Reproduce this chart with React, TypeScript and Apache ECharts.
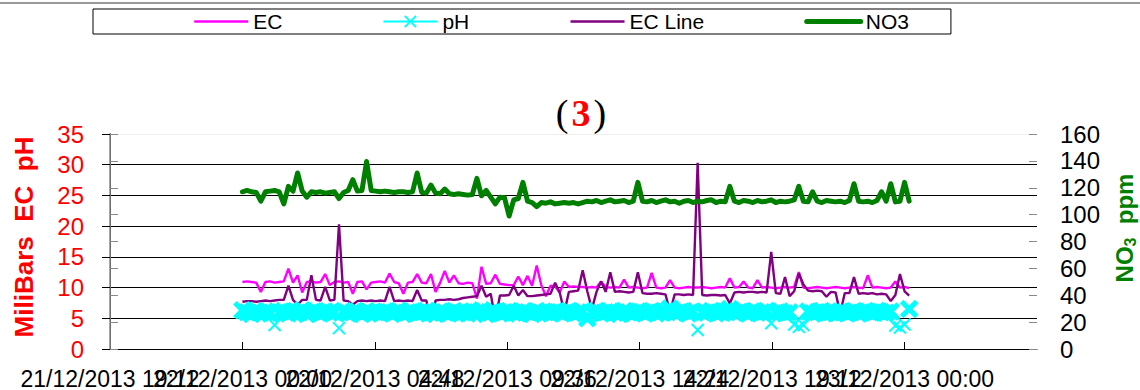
import React, { useEffect, useRef } from "react";
import * as echarts from "echarts";

// ---- Data ----
const xTickLabels = [
  "21/12/2013 19:12",
  "22/12/2013 00:00",
  "22/12/2013 04:48",
  "22/12/2013 09:36",
  "22/12/2013 14:24",
  "22/12/2013 19:12",
  "23/12/2013 00:00",
];
const xTickHours = 4.8; // hours between labelled ticks
const xMaxHours = 33.6;
const firstSampleHour = 4.8; // 22/12/2013 00:00
const sampleStepHours = 1 / 6; // one reading every 10 minutes

const leftTicks = [0, 5, 10, 15, 20, 25, 30, 35];
const rightTicks = [0, 20, 40, 60, 80, 100, 120, 140, 160];

const ecValues = [
  10.9, 11.0, 10.9, 10.8, 9.3, 10.9, 11.0, 10.8, 10.9, 11.0,
  13.1, 10.8, 12.0, 9.2, 10.9, 11.0, 10.8, 10.9, 12.2, 10.4,
  10.9, 11.0, 10.8, 10.9, 9.0, 10.9, 11.0, 9.7, 10.8, 10.9,
  11.0, 10.8, 12.3, 10.9, 10.7, 9.0, 10.8, 10.9, 12.2, 10.8,
  10.7, 12.2, 9.3, 10.8, 12.7, 10.8, 12.0, 10.7, 10.6, 10.8,
  10.7, 8.2, 13.4, 10.6, 10.7, 12.1, 10.6, 10.5, 10.4, 10.4,
  11.8, 10.4, 11.9, 10.3, 13.6, 10.4, 8.6, 10.3, 10.2, 9.2,
  11.0, 10.1, 10.2, 10.1, 10.1, 10.0, 10.1, 10.0, 11.0, 10.1,
  10.0, 10.1, 10.0, 11.3, 10.0, 10.1, 10.0, 9.9, 10.0, 12.4,
  10.0, 9.9, 10.0, 11.2, 10.0, 9.9, 10.0, 10.1, 10.0, 10.0,
  10.1, 10.0, 9.9, 10.0, 10.1, 10.0, 11.5, 10.0, 10.1, 11.0,
  10.0, 9.9, 11.2, 10.0, 10.1, 10.0, 9.9, 10.0, 10.1, 10.0,
  10.1, 12.5, 10.0, 9.9, 10.0, 10.1, 10.0, 9.9, 10.0, 10.1,
  10.0, 9.9, 10.0, 10.1, 10.0, 9.9, 12.0, 10.0, 10.1, 10.0,
  9.9, 10.0, 11.0, 10.0, 10.1, 9.9,
];

const phValues = [
  6.3, 6.0, 5.7, 6.2, 5.9, 6.1, 5.8, 3.9, 6.0, 6.2,
  5.8, 6.1, 5.9, 6.3, 5.7, 6.0, 6.2, 5.8, 6.1, 5.9,
  6.0, 3.4, 6.2, 5.8, 6.0, 6.1, 5.7, 6.2, 5.9, 6.0,
  5.8, 6.1, 6.0, 5.9, 6.2, 5.7, 6.0, 6.1, 5.8, 6.0,
  6.2, 5.9, 5.7, 6.1, 6.0, 5.8, 6.2, 5.9, 6.0, 5.8,
  6.1, 6.0, 6.3, 5.7, 5.9, 6.1, 5.8, 6.0, 6.2, 5.9,
  5.8, 6.1, 6.0, 5.7, 6.2, 5.9, 6.0, 5.8, 6.1, 6.0,
  5.9, 6.2, 5.8, 6.0, 6.1, 5.0, 5.9, 6.2, 5.8, 6.0,
  6.1, 5.9, 5.7, 6.2, 6.0, 5.8, 6.1, 6.0, 5.9, 6.2,
  5.8, 6.0, 6.1, 6.6, 5.9, 6.0, 6.2, 5.8, 6.1, 3.1,
  6.0, 5.9, 6.2, 5.8, 6.0, 6.1, 6.5, 5.9, 6.0, 6.2,
  5.8, 6.1, 5.9, 6.0, 6.2, 4.2, 5.9, 6.1, 5.8, 6.0,
  4.0, 3.6, 3.9, 6.1, 5.8, 6.0, 6.2, 5.9, 6.0, 5.8,
  6.1, 6.0, 5.9, 6.2, 5.8, 6.0, 6.1, 5.9, 6.2, 6.0,
  5.9, 6.1, 3.8, 3.5, 4.0, 6.5,
];

const ecLineValues = [
  7.7, 7.8, 7.8, 7.7, 7.8, 7.9, 7.8, 7.9, 8.0, 8.0,
  10.3, 8.0, 7.2, 8.0, 8.0, 12.0, 8.0, 7.9, 10.1, 7.9,
  8.0, 20.3, 7.9, 7.8, 7.2, 7.8, 7.9, 7.8, 7.9, 7.8,
  7.9, 7.8, 10.1, 7.8, 7.9, 7.8, 7.9, 7.8, 9.6, 7.9,
  7.9, 4.5, 7.9, 8.0, 8.0, 8.1, 8.0, 8.1, 8.3, 8.4,
  8.5, 8.6, 10.3, 8.5, 9.0, 4.7, 8.7, 8.7, 8.8, 10.3,
  8.7, 9.6, 8.6, 8.6, 8.7, 8.8, 8.9, 9.0, 10.8, 9.2,
  6.0, 9.3, 9.4, 9.5, 12.8, 9.4, 6.5, 9.3, 11.0, 9.3,
  12.5, 9.3, 9.4, 9.3, 9.2, 9.3, 12.5, 9.1, 9.0, 9.0,
  9.1, 9.0, 8.9, 6.0, 8.9, 8.9, 8.8, 8.9, 8.8, 30.3,
  8.8, 8.7, 8.8, 8.8, 8.7, 8.8, 7.4, 9.2, 9.3, 9.2,
  9.3, 9.3, 9.2, 9.3, 9.2, 15.8, 9.1, 9.0, 11.7, 8.6,
  9.4, 12.3, 10.5, 9.5, 9.4, 9.5, 9.4, 8.5, 9.3, 9.2,
  5.8, 9.1, 9.1, 11.7, 9.0, 9.1, 9.0, 9.1, 8.9, 9.0,
  8.9, 7.8, 8.8, 12.2, 9.4, 8.7,
];

const no3Values = [
  117, 118, 117, 116.5, 110, 117, 117.5, 118, 117, 108,
  121, 117.5, 131, 117.5, 113, 117, 116.5, 117, 116, 116.5,
  117, 112, 116.5, 118, 126, 117.5, 118, 139.5, 118, 117.5,
  117, 117.5, 117, 116.5, 117, 117, 116.5, 117, 131, 116.5,
  116, 122, 116, 115.5, 119, 115.5, 115, 115.5, 115, 114.5,
  115, 127, 114, 118, 113, 108, 113, 112.5, 99, 111,
  112, 124, 110, 109, 106, 109, 108.5, 109.5, 108, 108.5,
  109, 108.5, 109, 108, 109, 110, 109.5, 110.5, 109, 110,
  111, 109.5, 110, 110.5, 109, 110, 124, 110, 109.5, 110.5,
  109, 110, 111, 109.5, 110, 108.5, 110, 110.5, 109, 110,
  109.5, 110.5, 111, 109, 110, 109.5, 121, 110, 109, 110.5,
  110, 109, 110.5, 109.5, 110, 111, 109, 110, 109.5, 110,
  111, 121, 110, 109.5, 117, 110, 109, 110.5, 110, 109.5,
  110, 109, 110.5, 123, 110, 109.5, 110, 109, 110.5, 117,
  110, 123, 109.5, 110, 124, 110,
];

const FONT = "'Liberation Sans', Arial, sans-serif";
const SERIF = "'Liberation Serif', 'Times New Roman', serif";
const PH_OUTLIER_BELOW = 4.5; // readings drawn as isolated thin crosses

function toPairs(values: number[]) {
  return values.map((v, i) => [firstSampleHour + i * sampleStepHours, v]);
}

export default function App() {
  const ref = useRef<HTMLDivElement>(null);

  useEffect(() => {
    if (!ref.current) return;
    const chart = echarts.init(ref.current, null, { renderer: "svg" });
    const crossPath = "path://M0,0L10,10M0,10L10,0";
    const leftMax = leftTicks[leftTicks.length - 1];
    const rightMax = rightTicks[rightTicks.length - 1];
    const gridColors = leftTicks.map((_, i) => (i === leftTicks.length - 1 ? "#eeeeee" : "#000000"));
    const noSymbol = { opacity: 0 };
    const phPairs = toPairs(phValues);
    const phBand = phPairs.map((p) => (p[1] >= PH_OUTLIER_BELOW ? p : [p[0], null]));
    const phOut = phPairs.map((p) => (p[1] < PH_OUTLIER_BELOW ? p : [p[0], null]));

    const labelFormatter = (v: number) => {
      const k = Math.round(v / xTickHours);
      return Math.abs(v - k * xTickHours) < 1e-6 ? xTickLabels[k] ?? "" : "";
    };

    chart.setOption({
      animation: false,
      backgroundColor: "#ffffff",
      legend: {
        left: 93,
        top: 9,
        padding: [2, 42, 2, 100],
        borderColor: "#000",
        borderWidth: 1,
        itemWidth: 54,
        itemHeight: 14,
        itemGap: 100,
        textStyle: { fontFamily: FONT, fontSize: 21, color: "#000" },
        data: [
          { name: "EC", itemStyle: noSymbol, lineStyle: { width: 2.5 } },
          { name: "pH", lineStyle: { width: 2, color: "#00ffff", opacity: 1 }, itemStyle: { borderWidth: 2 } },
          { name: "EC Line", itemStyle: noSymbol, lineStyle: { width: 2.5 } },
          { name: "NO3", itemStyle: noSymbol, lineStyle: { width: 5, cap: "round" } },
        ],
      },
      grid: { left: 110, right: 103, top: 134, bottom: 39, containLabel: false },
      xAxis: [
        {
          type: "value",
          position: "bottom",
          min: 0,
          max: xMaxHours,
          interval: xTickHours,
          axisLine: { onZero: false, lineStyle: { color: "#000", width: 1 } },
          axisTick: { inside: true, length: 7, lineStyle: { color: "#000" } },
          splitLine: { show: false },
          axisLabel: {
            fontFamily: FONT,
            fontSize: 23,
            color: "#000",
            margin: 18,
            showMinLabel: false,
            showMaxLabel: false,
            hideOverlap: false,
            formatter: labelFormatter,
          },
        },
        {
          type: "value",
          position: "bottom",
          min: 0,
          max: xMaxHours,
          interval: xTickHours,
          axisLine: { show: false, onZero: false },
          axisTick: { show: false },
          splitLine: { show: false },
          axisLabel: {
            fontFamily: FONT,
            fontSize: 23,
            color: "#000",
            margin: 18,
            showMinLabel: true,
            showMaxLabel: false,
            hideOverlap: false,
            formatter: (v: number) => (Math.abs(v) < 1e-6 ? xTickLabels[0] : ""),
          },
        },
      ],
      yAxis: [
        {
          type: "value",
          position: "left",
          min: 0,
          max: leftMax,
          interval: 5,
          axisLine: { show: true, lineStyle: { color: "#222", width: 1 } },
          axisTick: { show: true, inside: false, length: 8, lineStyle: { color: "#000" } },
          axisLabel: { fontFamily: FONT, fontSize: 24, color: "#ff0000", margin: 26 },
          splitLine: { show: true, lineStyle: { color: gridColors, width: 1 } },
        },
        {
          type: "value",
          position: "right",
          min: 0,
          max: rightMax,
          interval: 20,
          axisLine: { show: true, lineStyle: { color: "#888", width: 1.5 } },
          axisTick: { show: true, inside: false, length: 8, lineStyle: { color: "#888" } },
          axisLabel: { fontFamily: FONT, fontSize: 24, color: "#000", margin: 23 },
          splitLine: { show: false },
        },
        {
          type: "value",
          position: "right",
          min: 0,
          max: rightMax,
          interval: 20,
          axisLine: { show: false },
          axisTick: { show: true, inside: true, length: 8, lineStyle: { color: "#888" } },
          axisLabel: { show: false },
          splitLine: { show: false },
        },
      ],
      series: [
        {
          name: "EC",
          type: "line",
          yAxisIndex: 0,
          data: toPairs(ecValues),
          symbol: "none",
          lineStyle: { color: "#ff00ff", width: 2.4 },
          itemStyle: { color: "#ff00ff" },
        },
        {
          name: "pH",
          type: "line",
          yAxisIndex: 0,
          data: phBand,
          symbol: crossPath,
          symbolSize: 15,
          showSymbol: true,
          showAllSymbol: true,
          lineStyle: { color: "#00ffff", width: 0, opacity: 0 },
          itemStyle: { color: "#00ffff", borderColor: "#00ffff", borderWidth: 5 },
        },
        {
          name: "pH",
          type: "line",
          yAxisIndex: 0,
          data: phOut,
          symbol: crossPath,
          symbolSize: 12,
          showSymbol: true,
          showAllSymbol: true,
          lineStyle: { color: "#00ffff", width: 0, opacity: 0 },
          itemStyle: { color: "#00ffff", borderColor: "#00ffff", borderWidth: 2 },
        },
        {
          name: "EC Line",
          type: "line",
          yAxisIndex: 0,
          data: toPairs(ecLineValues),
          symbol: "none",
          lineStyle: { color: "#800080", width: 2.4 },
          itemStyle: { color: "#800080" },
        },
        {
          name: "NO3",
          type: "line",
          yAxisIndex: 1,
          data: toPairs(no3Values),
          symbol: "none",
          lineStyle: { color: "#008000", width: 5, cap: "round", join: "round" },
          itemStyle: { color: "#008000" },
        },
      ],
      graphic: [
        {
          type: "line",
          shape: { x1: 0, y1: 3, x2: 1140, y2: 3 },
          style: { stroke: "#777", lineWidth: 1.5 },
        },
        {
          type: "text",
          x: 581,
          y: 113,
          style: {
            text: "{p|(}{t|3}{p|)}",
            align: "center",
            verticalAlign: "middle",
            rich: {
              p: { fontFamily: SERIF, fontSize: 38, fontWeight: "normal", fill: "#000", padding: [0, 3, 0, 3] },
              t: { fontFamily: SERIF, fontSize: 38, fontWeight: "bold", fill: "#ff0000" },
            },
          },
        },
        {
          type: "text",
          x: 24,
          y: 237,
          rotation: Math.PI / 2,
          style: {
            text: "MiliBars  EC  pH",
            align: "center",
            verticalAlign: "middle",
            fontFamily: FONT,
            fontSize: 26,
            fontWeight: "bold",
            fill: "#ff0000",
          },
        },
        {
          type: "text",
          x: 1124,
          y: 228,
          rotation: Math.PI / 2,
          style: {
            text: "{a|NO}{b|3}{a|  ppm}",
            align: "center",
            verticalAlign: "middle",
            rich: {
              a: { fontFamily: FONT, fontSize: 24, fontWeight: "bold", fill: "#008000", lineHeight: 28 },
              b: { fontFamily: FONT, fontSize: 16, fontWeight: "bold", fill: "#008000", lineHeight: 28, verticalAlign: "bottom" },
            },
          },
        },
      ],
    });

    return () => chart.dispose();
  }, []);

  return (
    <div
      ref={ref}
      style={{ position: "fixed", left: 0, top: 0, width: 1140, height: 390, background: "#fff" }}
    />
  );
}
